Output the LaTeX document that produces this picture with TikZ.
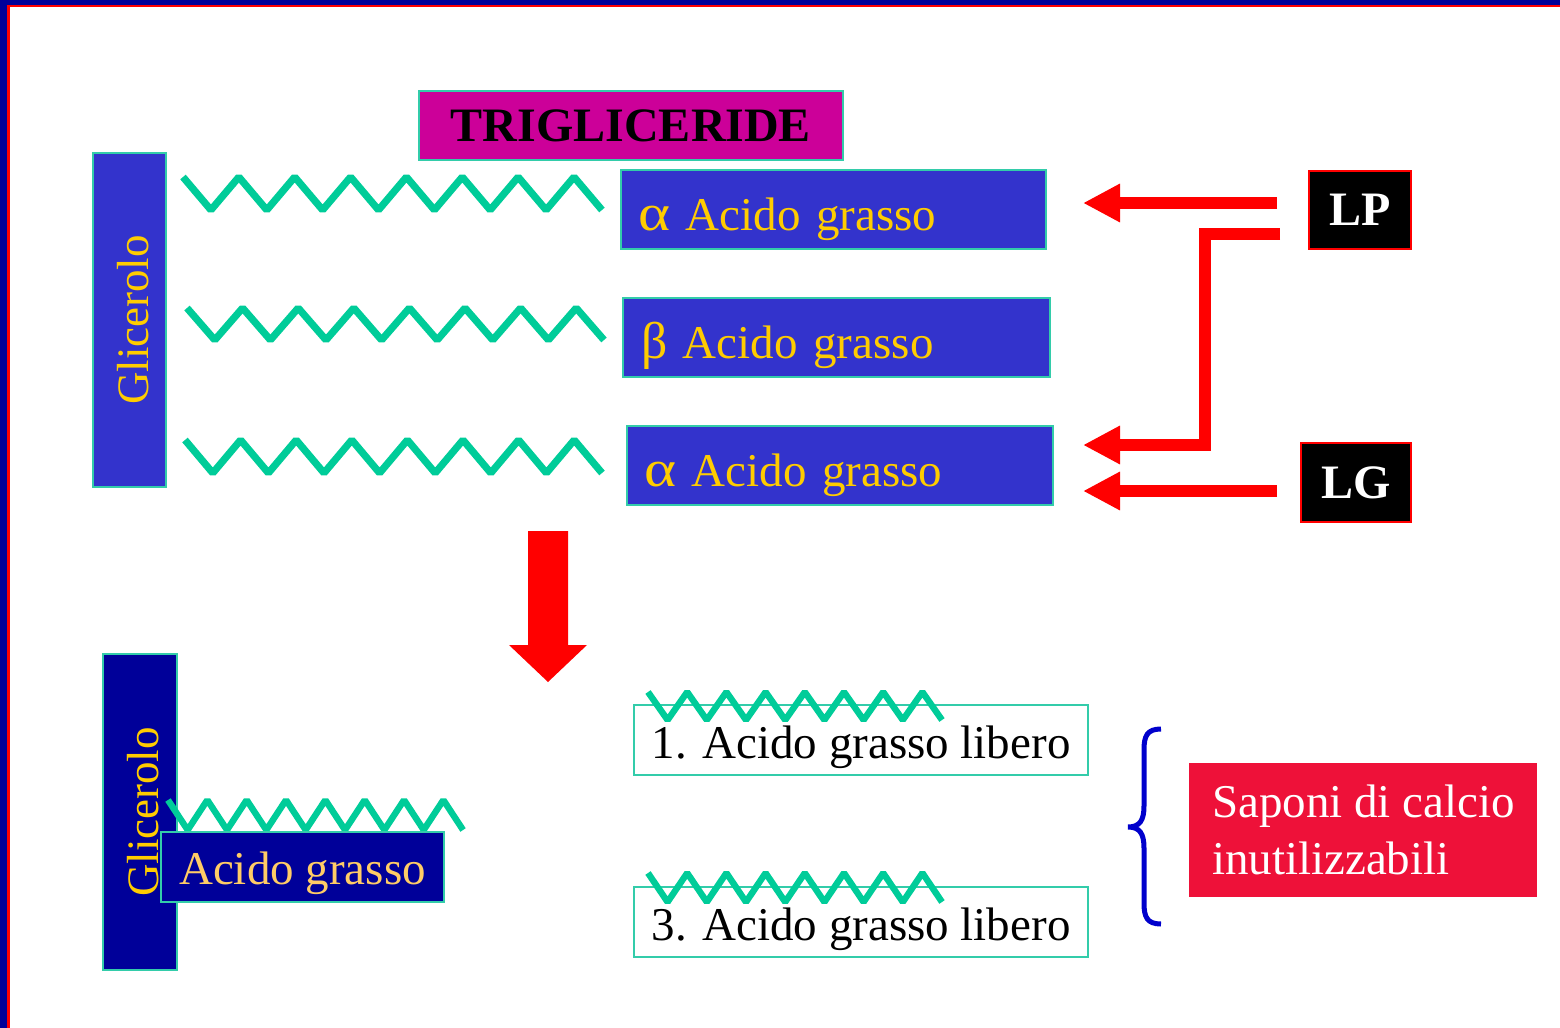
\documentclass[tikz,border=0pt]{standalone}
\usepackage{fontspec}
\setmainfont{Liberation Serif}
\usetikzlibrary{arrows.meta}
\definecolor{navyb}{HTML}{000099}
\definecolor{boxblue}{HTML}{3333CC}
\definecolor{tealc}{HTML}{00CC99}
\definecolor{tealb}{HTML}{33CCAA}
\definecolor{gold}{HTML}{FFCC00}
\definecolor{lgold}{HTML}{FFCC66}
\definecolor{magc}{HTML}{CC0099}
\definecolor{crim}{HTML}{EE1139}
\definecolor{bracec}{HTML}{0000CC}
\tikzset{
  bx/.style={draw=tealb, line width=1pt, inner sep=0pt, anchor=north west},
  bigtxt/.style={font=\fontsize{23.5}{28.5}\selectfont},
  acidbox/.style={bx, fill=boxblue, text=gold, bigtxt, align=left, minimum height=39.5pt,
     text height=20.5pt, text depth=0pt, inner ysep=0pt},
  glic/.style={draw=tealb, line width=1pt, inner sep=0pt, rotate=90, text=gold,
     font=\fontsize{22.5}{27}\selectfont, text depth=0pt},
  libbox/.style={bx, fill=white, text=black, bigtxt, minimum width=227pt, minimum height=35pt,
     text height=18pt, text depth=0pt},
  tagbox/.style={draw=red, line width=1pt, fill=black, text=white, inner sep=0pt, anchor=north west,
     font=\fontsize{24}{28}\selectfont\bfseries},
  zig/.style={draw=tealc, line width=3.6pt, line join=bevel},
  zigs/.style={draw=tealc, line width=3.2pt, line join=bevel},
  redarr/.style={draw=red, line width=6pt, line join=miter, -{Triangle[length=18.5pt,width=18pt]}},
}
\begin{document}
\begin{tikzpicture}[x=0.5pt,y=-0.5pt]
\useasboundingbox (0,0) rectangle (1560,1028);
% frame
\fill[navyb] (0,0) rectangle (1560,5);
\fill[navyb] (0,0) rectangle (7,1028);
\fill[red] (7,5) rectangle (1560,7);
\fill[red] (7,5) rectangle (9.5,1028);

% top glycerol
\node[glic, fill=boxblue, minimum width=167pt, minimum height=36.5pt, text height=18.5pt] (glic1) at (129.5,320) {Glicerolo};

% title
\node[bx, fill=magc, minimum width=212pt, minimum height=34.5pt, font=\fontsize{24}{28}\selectfont\bfseries] (tri) at (418,90) {TRIGLICERIDE};

% zigzags of the triglyceride
\draw[zig] (183,177) \foreach \i in {1,...,15} { -- ({183+\i*27.93},{177+33*mod(\i,2)}) };
\draw[zig] (187,308) \foreach \i in {1,...,15} { -- ({187+\i*27.8},{308+32*mod(\i,2)}) };
\draw[zig] (185,440) \foreach \i in {1,...,15} { -- ({185+\i*27.8},{440+33*mod(\i,2)}) };

% fatty acid boxes
\node[acidbox, minimum width=212.5pt, inner xsep=8.5pt, text width=195.5pt] (a1) at (620,169) {\scalebox{1.3}[1.1]{α} Acido grasso};
\node[acidbox, minimum width=213.5pt, inner xsep=9pt, text width=195.5pt] (b2) at (622,297) {\scalebox{1.1}[1.1]{β} Acido grasso};
\node[acidbox, minimum width=213pt, inner xsep=8.5pt, text width=196pt] (a3) at (626,425) {\scalebox{1.3}[1.1]{α} Acido grasso};

% lipases
\node[tagbox, minimum width=51pt, minimum height=39pt] (lp) at (1308,170) {LP};
\node[tagbox, minimum width=55pt, minimum height=39.5pt] (lg) at (1300,442) {LG};

\coordinate (lpa) at (1277,203);
\coordinate (lpb) at (1280,233.5);
\coordinate (lga) at (1277,491);
\coordinate (t1) at (1083,203);
\coordinate (t3) at (1083,445);
\coordinate (t3b) at (1083,491);
\draw[redarr] (lpa) -- (t1);
\draw[redarr] (lpb) -- (1205,233.5) -- (1205,445) -- (t3);
\draw[redarr] (lga) -- (t3b);

% big down arrow
\fill[red] (528,531) -- (568,531) -- (568,645) -- (587,645) -- (548,682) -- (509,645) -- (528,645) -- cycle;

% bottom: monoglyceride
\node[glic, fill=navyb, minimum width=158pt, minimum height=37pt, text height=18pt] (glic2) at (140,812) {Glicerolo};
\draw[zigs] (168,800) \foreach \i in {1,...,15} { -- ({168+\i*19.67},{800+30*mod(\i,2)}) };
\node[bx, fill=navyb, text=lgold, bigtxt, minimum width=141.5pt, minimum height=35pt, text height=17pt, text depth=0pt] (ag) at (160,831) {Acido grasso};

% free fatty acids
\node[libbox] (l1) at (633,704) {1. Acido grasso libero};
\node[libbox] (l3) at (633,886) {3. Acido grasso libero};
\draw[zigs] (648,692) \foreach \i in {1,...,15} { -- ({648+\i*19.6},{692+28*mod(\i,2)}) };
\draw[zigs] (648,873) \foreach \i in {1,...,15} { -- ({648+\i*19.6},{873+29*mod(\i,2)}) };

% brace
\draw[bracec, line width=2.5pt] (1161,729) .. controls (1147,729) and (1144,736) .. (1144,750) -- (1144,806) .. controls (1144,820) and (1140,827) .. (1128,827) .. controls (1140,827) and (1144,834) .. (1144,848) -- (1144,903) .. controls (1144,917) and (1147,924) .. (1161,924);

% soaps
\node[anchor=north west, fill=crim, text=white, bigtxt, align=left, minimum width=174pt, minimum height=67pt, inner sep=0pt] (sap) at (1189,763) {Saponi di calcio\\inutilizzabili};
\end{tikzpicture}
\end{document}
